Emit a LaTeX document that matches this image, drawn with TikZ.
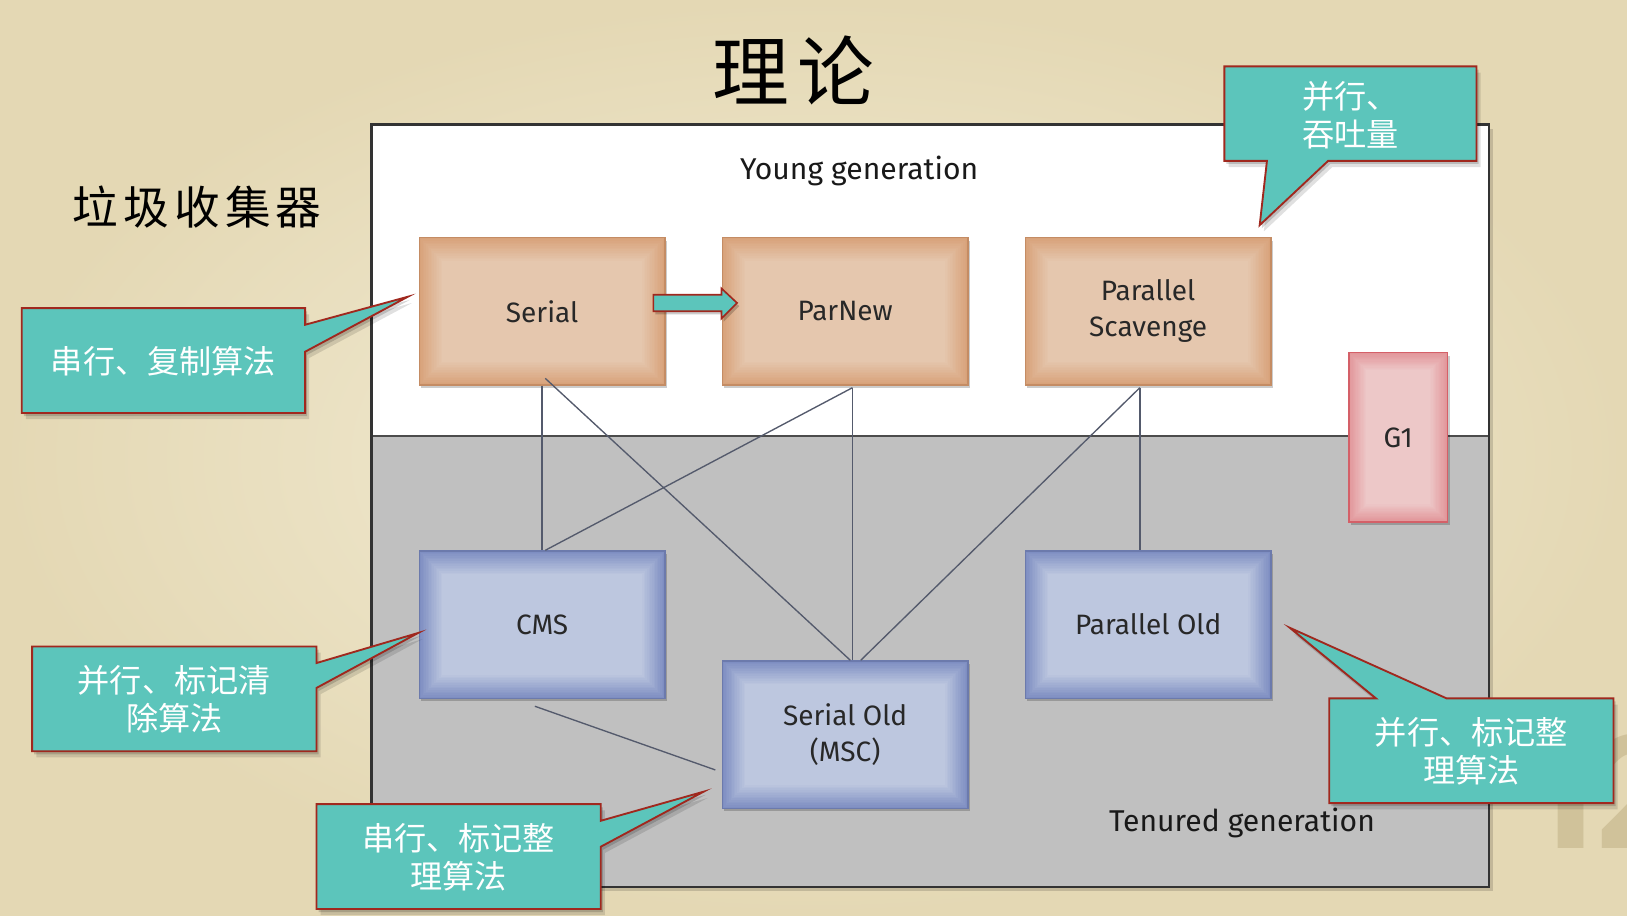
\documentclass[tikz,border=0pt]{standalone}
\usepackage{fontspec}
\setmainfont{Fira Sans}
\newfontfamily\cjk{Noto Sans CJK SC}
\usetikzlibrary{shadows}
\definecolor{paperin}{RGB}{244,238,216}
\definecolor{paperout}{RGB}{228,216,180}
\definecolor{callteal}{RGB}{92,197,187}
\definecolor{callred}{RGB}{160,40,30}
\definecolor{orgedge}{RGB}{216,162,122}
\definecolor{orgmid}{RGB}{229,199,174}
\definecolor{orgline}{RGB}{196,140,100}
\definecolor{bluedge}{RGB}{126,142,194}
\definecolor{blumid}{RGB}{189,199,223}
\definecolor{bluline}{RGB}{108,122,172}
\definecolor{pinkedge}{RGB}{226,150,154}
\definecolor{pinkmid}{RGB}{237,200,200}
\definecolor{pinkline}{RGB}{212,96,104}
\definecolor{tenuredgray}{RGB}{192,192,192}
\definecolor{conncol}{RGB}{84,90,108}
\definecolor{pagenum}{RGB}{208,194,154}
\definecolor{boxtext}{RGB}{40,40,40}
\newcommand\glowpp[3]{%
  \foreach \gi in {0,...,14}{%
    \pgfmathsetmacro\gp{\gi*100/14}%
    \pgfmathsetmacro\gd{\gi*#3}%
    \fill[#2!\gp!#1] ([xshift=\gd pt, yshift=-\gd pt]path picture bounding box.north west)
      rectangle ([xshift=-\gd pt, yshift=\gd pt]path picture bounding box.south east);
  }}
\begin{document}
\begin{tikzpicture}[x=1pt,y=-1pt,
  softshadow/.style={drop shadow={shadow xshift=2pt, shadow yshift=-3pt, opacity=.16, fill=black},
                     drop shadow={shadow xshift=4pt, shadow yshift=-6pt, opacity=.12, fill=black}},
  gcbox/.style={inner sep=0pt, minimum width=237pt, minimum height=142pt, align=center,
    text=boxtext, font=\fontsize{27}{35}\selectfont, line width=1.3pt,
    drop shadow={shadow xshift=2pt, shadow yshift=-3pt, opacity=.2, fill=black}},
  youngbox/.style={gcbox, draw=orgline, path picture={\glowpp{orgedge}{orgmid}{1.6}}},
  oldbox/.style={gcbox, draw=bluline, path picture={\glowpp{bluedge}{blumid}{1.6}}},
  gonebox/.style={gcbox, draw=pinkline, minimum width=95pt, minimum height=163pt,
    path picture={\glowpp{pinkedge}{pinkmid}{1.2}}},
  genlabel/.style={font=\fontsize{29}{29}\selectfont, text=black!90},
  conn/.style={draw=conncol, line width=1.3pt},
  ctext/.style={inner sep=0pt, text=white, align=center, font=\cjk\fontsize{31}{37}\selectfont},
  cshape/.style={fill=callteal, draw=callred, line width=1.8pt, line join=miter, softshadow},
  arrowshape/.style={fill=callteal, draw=callred, line width=1.6pt, line join=miter,
    drop shadow={shadow xshift=2pt, shadow yshift=-3pt, opacity=.2, fill=black}}
]
\useasboundingbox (0,0) rectangle (1568,882);
\shade[inner color=paperin, outer color=paperout] (0,0) rectangle (1568,882);
\node[anchor=base west, text=pagenum, font=\bfseries\fontsize{160}{160}\selectfont] (pnum) at (1462,818) {12};

% generation frame
\fill[black,opacity=.15] (361,124) rectangle (1439,859);
\fill[white] (358,120) rectangle (1435,420);
\fill[tenuredgray] (358,420) rectangle (1435,855);
\draw[line width=1.5pt, black!70] (358,420) -- (1435,420);
\draw[line width=2pt, black!80] (358,120) rectangle (1435,855);

\node[font=\cjk\fontsize{74}{74}\selectfont] (title) at (765,68) {理\hspace{8pt}论};
\node[font=\cjk\fontsize{44}{44}\selectfont] (gc) at (190,200) {垃\hspace{5pt}圾\hspace{5pt}收\hspace{5pt}集\hspace{5pt}器};

\node[genlabel] (younglbl) at (828,165) {Young generation};
\node[genlabel] (tenuredlbl) at (1197,793) {Tenured generation};

\node[youngbox] (serial) at (522.5,300) {Serial};
\node[youngbox] (parnew) at (814.5,300) {ParNew};
\node[youngbox] (ps) at (1106.5,300) {Parallel\\Scavenge};
\node[oldbox] (cms) at (522.5,602) {CMS};
\node[oldbox] (serialold) at (814.5,708) {Serial Old\\(MSC)};
\node[oldbox] (parold) at (1106.5,602) {Parallel Old};
\node[gonebox] (g1) at (1347.5,421.5) {G1};

% connectors
\draw[conn] (serial.south) -- (cms.north);
\draw[conn] ([shift={(3,-7)}]serial.south) -- ([shift={(5,0)}]serialold.north);
\draw[conn] ([shift={(7,2)}]parnew.south) -- ([shift={(7,0)}]serialold.north);
\draw[conn] ([shift={(7,2)}]parnew.south) -- ([shift={(3,0)}]cms.north);
\draw[conn] ([shift={(-8,2)}]ps.south) -- ([shift={(15,0)}]serialold.north);
\draw[conn] ([shift={(-8,2)}]ps.south) -- ([shift={(-8,0)}]parold.north);
\draw[conn] ([shift={(-7,7)}]cms.south) -- ([shift={(-6,34)}]serialold.west);

% block arrow Serial -> ParNew
\path[arrowshape] ([shift={(-12,-16)}]serial.east) -- ([shift={(0,-16)}]parnew.west)
  -- ([shift={(0,-22)}]parnew.west) -- ([shift={(15,-8)}]parnew.west)
  -- ([shift={(0,7)}]parnew.west) -- ([shift={(0,0)}]parnew.west)
  -- ([shift={(-12,0)}]serial.east) -- cycle;

% callouts
\coordinate (t1) at (393,286);
\coordinate (t2) at (1214,217);
\coordinate (t3) at (403,610);
\coordinate (t4) at (678,763);
\coordinate (t5) at (1243,605);
\path[cshape] (21,297) -- (294,297) -- (294,313) -- (t1) -- (294,339) -- (294,398) -- (21,398) -- cycle;
\node[ctext] (c1) at (157.5,348) {串行、复制算法};
\path[cshape] (1180,64) -- (1423,64) -- (1423,155) -- (1280,155) -- (t2) -- (1221,155) -- (1180,155) -- cycle;
\node[ctext, align=left] (c2) at (1301.5,111) {并行、\\吞吐量};
\path[cshape] (31,623) -- (305,623) -- (305,639) -- (t3) -- (305,663) -- (305,724) -- (31,724) -- cycle;
\node[ctext] (c3) at (168,674) {并行、标记清\\除算法};
\path[cshape] (305,775) -- (579,775) -- (579,791) -- (t4) -- (579,816) -- (579,876) -- (305,876) -- cycle;
\node[ctext] (c4) at (442,826) {串行、标记整\\理算法};
\path[cshape] (1281,673) -- (1326,673) -- (t5) -- (1394,673) -- (1555,673) -- (1555,774) -- (1281,774) -- cycle;
\node[ctext] (c5) at (1418,724) {并行、标记整\\理算法};
\end{tikzpicture}
\end{document}
